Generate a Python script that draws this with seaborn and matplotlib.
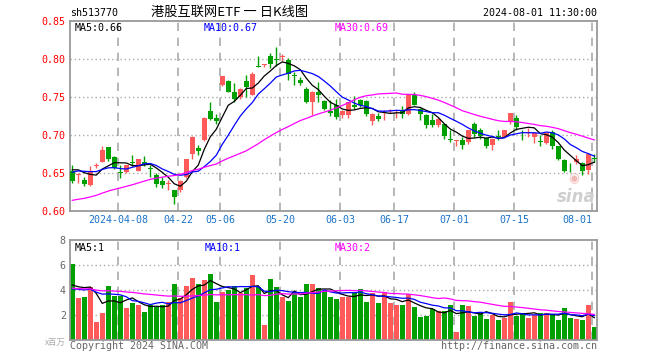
import numpy as np
import pandas as pd
import matplotlib
matplotlib.use('Agg')
import matplotlib.pyplot as plt
import seaborn as sns

# trading days (SSE), holidays skipped
holidays = ['2024-04-04', '2024-04-05', '2024-05-01', '2024-05-02', '2024-05-03', '2024-06-10']
dates = [d for d in pd.bdate_range('2024-03-25', '2024-08-01') if d.strftime('%Y-%m-%d') not in holidays]

open_ = [0.652, 0.647, 0.641, 0.634, 0.659, 0.665, 0.684, 0.671, 0.651, 0.651,
         0.664, 0.653, 0.664, 0.656, 0.648, 0.639, 0.635, 0.628, 0.627, 0.645,
         0.675, 0.683, 0.693, 0.732, 0.723, 0.766, 0.771, 0.756, 0.750, 0.771,
         0.753, 0.791, 0.792, 0.804, 0.800, 0.803, 0.799, 0.779, 0.773, 0.760,
         0.743, 0.756, 0.745, 0.732, 0.739, 0.726, 0.726, 0.740, 0.746, 0.745,
         0.718, 0.725, 0.731, 0.731, 0.731, 0.733, 0.728, 0.753, 0.734, 0.726,
         0.720, 0.713, 0.714, 0.694, 0.692, 0.693, 0.691, 0.714, 0.707, 0.696,
         0.687, 0.698, 0.698, 0.718, 0.722, 0.703, 0.703, 0.698, 0.692, 0.690,
         0.704, 0.685, 0.667, 0.657, 0.664, 0.663, 0.654, 0.670]
high = [0.660, 0.650, 0.645, 0.659, 0.663, 0.686, 0.684, 0.672, 0.660, 0.661,
        0.674, 0.669, 0.672, 0.660, 0.650, 0.645, 0.641, 0.628, 0.641, 0.669,
        0.699, 0.687, 0.724, 0.743, 0.728, 0.777, 0.773, 0.768, 0.762, 0.779,
        0.783, 0.804, 0.794, 0.808, 0.816, 0.807, 0.801, 0.783, 0.776, 0.763,
        0.758, 0.770, 0.746, 0.746, 0.747, 0.733, 0.744, 0.751, 0.748, 0.746,
        0.729, 0.729, 0.733, 0.734, 0.733, 0.738, 0.754, 0.757, 0.735, 0.728,
        0.728, 0.722, 0.715, 0.707, 0.693, 0.698, 0.707, 0.717, 0.709, 0.697,
        0.696, 0.707, 0.707, 0.729, 0.726, 0.707, 0.709, 0.703, 0.700, 0.704,
        0.706, 0.686, 0.668, 0.663, 0.674, 0.664, 0.676, 0.675]
low = [0.637, 0.637, 0.633, 0.633, 0.656, 0.664, 0.666, 0.655, 0.644, 0.650,
       0.659, 0.652, 0.659, 0.645, 0.632, 0.630, 0.627, 0.609, 0.625, 0.644,
       0.668, 0.674, 0.692, 0.720, 0.715, 0.764, 0.756, 0.744, 0.747, 0.750,
       0.753, 0.790, 0.790, 0.788, 0.791, 0.797, 0.773, 0.766, 0.766, 0.742,
       0.726, 0.744, 0.733, 0.725, 0.721, 0.722, 0.723, 0.734, 0.737, 0.725,
       0.713, 0.719, 0.720, 0.729, 0.722, 0.723, 0.726, 0.739, 0.720, 0.709,
       0.710, 0.710, 0.695, 0.691, 0.686, 0.682, 0.688, 0.697, 0.695, 0.683,
       0.680, 0.693, 0.697, 0.715, 0.707, 0.694, 0.697, 0.690, 0.686, 0.688,
       0.682, 0.667, 0.651, 0.651, 0.662, 0.648, 0.649, 0.664]
close = [0.640, 0.648, 0.636, 0.651, 0.661, 0.680, 0.669, 0.657, 0.650, 0.660,
         0.663, 0.668, 0.662, 0.655, 0.635, 0.634, 0.636, 0.619, 0.639, 0.668,
         0.697, 0.679, 0.723, 0.721, 0.718, 0.777, 0.757, 0.748, 0.761, 0.763,
         0.780, 0.790, 0.794, 0.794, 0.799, 0.804, 0.780, 0.778, 0.769, 0.743,
         0.757, 0.752, 0.734, 0.729, 0.724, 0.732, 0.743, 0.737, 0.739, 0.728,
         0.728, 0.721, 0.732, 0.733, 0.732, 0.728, 0.753, 0.740, 0.728, 0.713,
         0.713, 0.721, 0.699, 0.693, 0.693, 0.687, 0.706, 0.701, 0.699, 0.686,
         0.695, 0.697, 0.706, 0.729, 0.710, 0.702, 0.704, 0.702, 0.691, 0.703,
         0.686, 0.668, 0.653, 0.656, 0.668, 0.653, 0.675, 0.669]
volume = [6.10, 3.35, 3.45, 4.25, 1.45, 2.15, 4.30, 3.50, 3.50, 2.55,
          3.00, 2.80, 2.25, 2.80, 2.65, 2.80, 3.05, 4.50, 3.40, 4.30,
          5.00, 4.45, 4.80, 5.25, 3.05, 3.85, 4.00, 4.30, 3.75, 4.20,
          5.20, 4.25, 1.20, 4.90, 4.25, 3.45, 3.15, 3.85, 3.45, 4.45,
          4.45, 4.15, 3.90, 3.45, 3.28, 3.47, 3.47, 3.73, 4.08, 3.04,
          3.73, 2.96, 3.81, 2.96, 2.80, 2.80, 3.65, 2.64, 1.84, 1.92,
          2.48, 2.32, 2.32, 2.80, 0.64, 2.80, 2.72, 1.92, 2.21, 1.68,
          2.00, 1.60, 1.76, 3.04, 1.92, 2.16, 1.76, 2.00, 2.20, 2.20,
          2.00, 1.60, 2.60, 1.80, 1.70, 1.60, 2.80, 1.04]

# sessions before the visible window (only feed the moving averages)
prior_close = [0.605, 0.600, 0.596, 0.598, 0.592, 0.588, 0.590, 0.594, 0.597, 0.601,
               0.596, 0.590, 0.585, 0.588, 0.594, 0.598, 0.594, 0.590, 0.600, 0.615,
               0.630, 0.642, 0.655, 0.660, 0.652, 0.648, 0.655, 0.662, 0.666]
prior_vol = [4.5, 3.9, 4.3, 4.6, 3.8, 4.1, 4.4, 3.9, 4.2, 4.0,
             4.5, 4.3, 3.9, 4.1, 4.2, 4.3, 4.2, 4.1, 4.2, 4.0,
             3.7, 4.0, 3.6, 3.9, 3.7, 4.1, 3.8, 4.0, 4.05]

tick_dates = ['2024-04-08', '2024-04-22', '2024-05-06', '2024-05-20', '2024-06-03',
              '2024-06-17', '2024-07-01', '2024-07-15', '2024-08-01']
tick_labels = ['2024-04-08', '04-22', '05-06', '05-20', '06-03', '06-17', '07-01', '07-15', '08-01']

RED = '#ff5a5a'
GREEN = '#00a000'
GRID = '#aaaaaa'
MONO = 'DejaVu Sans Mono'
CJK = ['Noto Sans CJK SC', 'DejaVu Sans']

n = len(close)
x = np.arange(n)
date_str = [d.strftime('%Y-%m-%d') for d in dates]
tick_pos = [date_str.index(d) - 0.35 for d in tick_dates]

df = pd.DataFrame({'x': x, 'open': open_, 'high': high, 'low': low,
                   'close': close, 'vol': volume})
df['up'] = np.where(df['close'] >= df['open'], 'up', 'down')
colors = [RED if u == 'up' else GREEN for u in df['up']]

allc = pd.Series(prior_close + close)
allv = pd.Series(prior_vol + volume)
k = len(prior_close)
for w in (5, 10, 30):
    df[f'ma{w}'] = allc.rolling(w).mean().iloc[k:].to_numpy()
    df[f'vma{w}'] = allv.rolling(w).mean().iloc[k:].to_numpy()

W, H = 660, 360
fig = plt.figure(figsize=(6.6, 3.6), dpi=100)
fig.patch.set_facecolor('white')


def fx(px):
    return px / W


def fy(py):
    return 1 - py / H


ax = fig.add_axes([fx(70), fy(211), fx(597) - fx(70), fy(21) - fy(211)])
axv = fig.add_axes([fx(70), fy(340), fx(597) - fx(70), fy(240) - fy(340)])

# ---- price panel
for yv in (0.65, 0.70, 0.75, 0.80):
    ax.axhline(yv, color=GRID, lw=1, ls=(0, (1, 2)), zorder=0)
for tp in tick_pos:
    ax.axvline(tp, color=GRID, lw=1.2, ls=(0, (5, 4)), zorder=0)

body_h = np.maximum(np.abs(df['close'] - df['open']), 0.0012)
body_b = np.minimum(df['close'], df['open'])
ax.vlines(df['x'], df['low'], df['high'], colors=colors, lw=1, zorder=2)
ax.bar(df['x'], body_h, bottom=body_b, width=0.8, color=colors, linewidth=0, zorder=3)

sns.lineplot(data=df, x='x', y='ma5', color='black', lw=0.9, ax=ax, zorder=4)
sns.lineplot(data=df, x='x', y='ma10', color='#0000ff', lw=0.9, ax=ax, zorder=4)
sns.lineplot(data=df, x='x', y='ma30', color='#ff00ff', lw=0.9, ax=ax, zorder=4)

ax.set_xlim(-0.38, 87.45)
ax.set_ylim(0.60, 0.85)
ax.set_yticks([0.60, 0.65, 0.70, 0.75, 0.80, 0.85])
ax.set_yticklabels(['0.60', '0.65', '0.70', '0.75', '0.80', '0.85'],
                   color='#ff0000', family=MONO, size=7.2)
ax.set_xticks(tick_pos)
ax.set_xticklabels(tick_labels, color='#1a73c8', family=MONO, size=7.2)
ax.get_xticklabels()[-1].set_ha('right')
ax.get_xticklabels()[-1].set_x(tick_pos[-1] + 0.3)
ax.tick_params(length=0, pad=3)
ax.set_xlabel('')
ax.set_ylabel('')

ax.text(0.009, 0.99, 'MA5:0.66', transform=ax.transAxes, color='black',
        family=MONO, size=7.2, va='top')
ax.text((204 - 70) / 527, 0.99, 'MA10:0.67', transform=ax.transAxes, color='#0000ff',
        family=MONO, size=7.2, va='top')
ax.text((335 - 70) / 527, 0.99, 'MA30:0.69', transform=ax.transAxes, color='#ff00ff',
        family=MONO, size=7.2, va='top')
# sina watermark
ax.text(0.997, 0.075, 'sina', transform=ax.transAxes, color='#cfcfcf', size=12,
        style='italic', weight='bold', ha='right', va='center')
ax.text(0.955, 0.17, '◉', transform=ax.transAxes, color='#f2b8b8', size=9,
        ha='center', va='center')

# ---- volume panel
for yv in (2, 4, 6):
    axv.axhline(yv, color=GRID, lw=1, ls=(0, (1, 2)), zorder=0)
for tp in tick_pos:
    axv.axvline(tp, color=GRID, lw=1.2, ls=(0, (5, 4)), zorder=0)

sns.barplot(data=df, x='x', y='vol', hue='up', palette={'up': RED, 'down': GREEN},
            native_scale=True, dodge=False, width=0.82, linewidth=0, saturation=1,
            errorbar=None, legend=False, ax=axv, zorder=2)
sns.lineplot(data=df, x='x', y='vma5', color='black', lw=0.9, ax=axv, zorder=4)
sns.lineplot(data=df, x='x', y='vma10', color='#0000ff', lw=0.9, ax=axv, zorder=4)
sns.lineplot(data=df, x='x', y='vma30', color='#ff00ff', lw=0.9, ax=axv, zorder=4)

axv.set_xlim(-0.38, 87.45)
axv.set_ylim(0, 8)
axv.set_yticks([2, 4, 6, 8])
axv.set_yticklabels(['2', '4', '6', '8'], color='#666666', family=MONO, size=7.2)
axv.set_xticks([])
axv.tick_params(length=0, pad=3)
axv.set_xlabel('')
axv.set_ylabel('')

axv.text(0.009, 0.97, 'MA5:1', transform=axv.transAxes, color='black',
         family=MONO, size=7.2, va='top')
axv.text((205 - 70) / 527, 0.97, 'MA10:1', transform=axv.transAxes, color='#0000ff',
         family=MONO, size=7.2, va='top')
axv.text((335 - 70) / 527, 0.97, 'MA30:2', transform=axv.transAxes, color='#ff00ff',
         family=MONO, size=7.2, va='top')

for a in (ax, axv):
    a.set_facecolor('white')
    for s in a.spines.values():
        s.set_color('#999999')
        s.set_linewidth(1.3)

# ---- header / footer
fig.text(fx(70), fy(12.5), 'sh513770', family=MONO, size=7.2, va='center')
fig.text(fx(230), fy(12.5), '港股互联网ETF 一 日K线图', family=CJK, size=9.5,
         va='center', ha='center')
fig.text(fx(597), fy(12.5), '2024-08-01 11:30:00', family=MONO, size=7.2,
         va='center', ha='right')
fig.text(fx(70), fy(346), 'Copyright 2024 SINA.COM', family=MONO, size=7.2,
         va='center', color='#666666')
fig.text(fx(597), fy(346), 'http://finance.sina.com.cn', family=MONO, size=7.2,
         va='center', ha='right', color='#666666')
fig.text(fx(66), fy(342), 'x百万', family=CJK, size=6, va='center', ha='right',
         color='#aaaaaa')

fig.savefig('out.png', dpi=100, facecolor='white')
